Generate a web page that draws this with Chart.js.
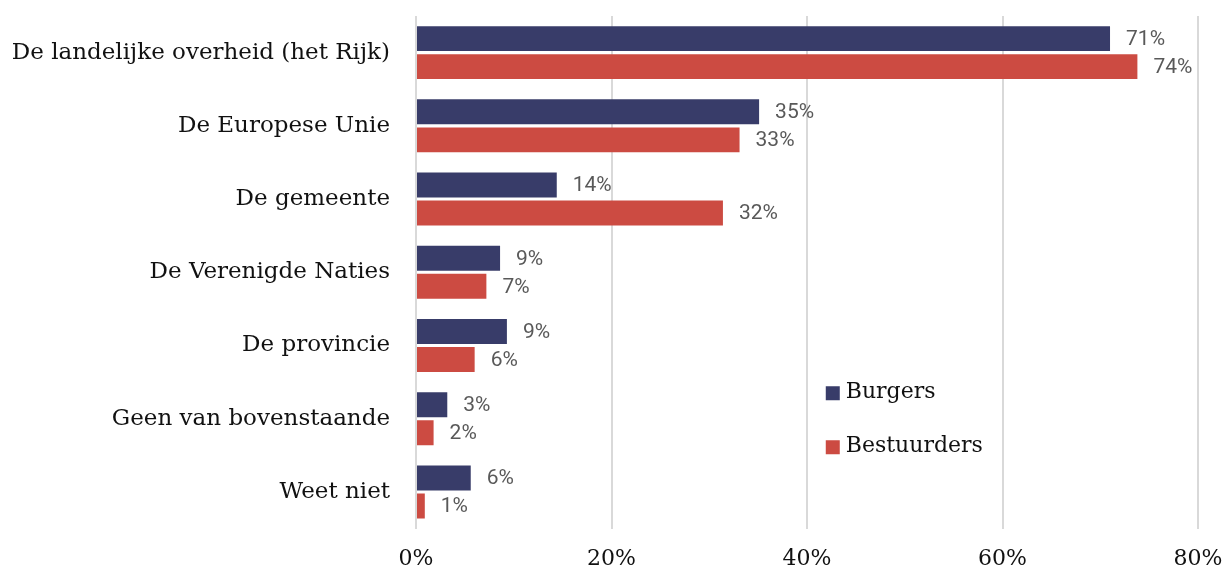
<!DOCTYPE html>
<html>
<head>
<meta charset="utf-8">
<script src="https://cdn.jsdelivr.net/npm/chart.js@4.4.1/dist/chart.umd.min.js"></script>
<style>
  html, body { margin: 0; padding: 0; background: #fff; }
  #wrap { width: 1227px; height: 571px; }
</style>
</head>
<body>
<div id="wrap"><canvas id="chart"></canvas></div>
<script>
const categories = [
    'De landelijke overheid (het Rijk)',
    'De Europese Unie',
    'De gemeente',
    'De Verenigde Naties',
    'De provincie',
    'Geen van bovenstaande',
    'Weet niet'
];
const burgers = [71.0, 35.1, 14.4, 8.6, 9.3, 3.2, 5.6];
const bestuurders = [73.8, 33.1, 31.4, 7.2, 6.0, 1.8, 0.9];
const burgersLabels = ['71%', '35%', '14%', '9%', '9%', '3%', '6%'];
const bestuurdersLabels = ['74%', '33%', '32%', '7%', '6%', '2%', '1%'];
const xTicks = [0, 20, 40, 60, 80];

const serif = '"DejaVu Serif", serif';

// value labels at the end of each bar
const valueLabels = {
    id: 'valueLabels',
    afterDatasetsDraw(chart) {
        const ctx = chart.ctx;
        ctx.save();
        ctx.font = '21px Roboto';
        ctx.fillStyle = '#595959';
        ctx.textBaseline = 'middle';
        ctx.textAlign = 'left';
        chart.data.datasets.forEach((ds, i) => {
            chart.getDatasetMeta(i).data.forEach((bar, j) => {
                ctx.fillText(ds.valueLabels[j], bar.x + 16, bar.y + 1);
            });
        });
        ctx.restore();
    }
};

// legend inside the plot area
const innerLegend = {
    id: 'innerLegend',
    afterDraw(chart) {
        const ctx = chart.ctx;
        const area = chart.chartArea;
        const x = area.left + (area.right - area.left) * 0.524;
        const y0 = area.top + (area.bottom - area.top) * 0.734;
        ctx.save();
        ctx.font = '22px ' + serif;
        ctx.textBaseline = 'middle';
        ctx.textAlign = 'left';
        chart.data.datasets.forEach((ds, i) => {
            const y = y0 + i * 54;
            ctx.fillStyle = ds.backgroundColor;
            ctx.fillRect(x, y - 6, 14, 14);
            ctx.fillStyle = '#111';
            ctx.fillText(ds.label, x + 20, y);
        });
        ctx.restore();
    }
};

new Chart(document.getElementById('chart').getContext('2d'), {
    type: 'bar',
    data: {
        labels: categories,
        datasets: [{
            label: 'Burgers',
            data: burgers,
            valueLabels: burgersLabels,
            backgroundColor: '#383c69',
            categoryPercentage: 0.765,
            barPercentage: 0.89
        }, {
            label: 'Bestuurders',
            data: bestuurders,
            valueLabels: bestuurdersLabels,
            backgroundColor: '#cc4b42',
            categoryPercentage: 0.765,
            barPercentage: 0.89
        }]
    },
    options: {
        indexAxis: 'y',
        responsive: true,
        maintainAspectRatio: false,
        animation: false,
        layout: { padding: { top: 16, right: 0, bottom: -18, left: 10 } },
        plugins: {
            legend: { display: false },
            tooltip: { enabled: false }
        },
        scales: {
            x: {
                min: 0,
                max: 80,
                afterBuildTicks: axis => { axis.ticks = xTicks.map(v => ({ value: v })); },
                afterFit: axis => {
                    axis.paddingLeft = 0;
                    axis.paddingRight = 29;
                },
                grid: { color: '#d9d9d9', lineWidth: 2, drawTicks: false },
                border: { display: false },
                ticks: {
                    padding: 17,
                    color: '#111',
                    font: { family: serif, size: 22 },
                    callback: v => v + '%'
                }
            },
            y: {
                grid: { display: false, drawTicks: false },
                border: { display: false },
                afterFit: axis => {
                    axis.paddingTop = 0;
                    axis.paddingBottom = 0;
                    axis.width = 406;
                },
                ticks: {
                    padding: 26,
                    color: '#111',
                    font: { family: serif, size: 23 }
                }
            }
        }
    },
    plugins: [valueLabels, innerLegend]
});
</script>
</body>
</html>
